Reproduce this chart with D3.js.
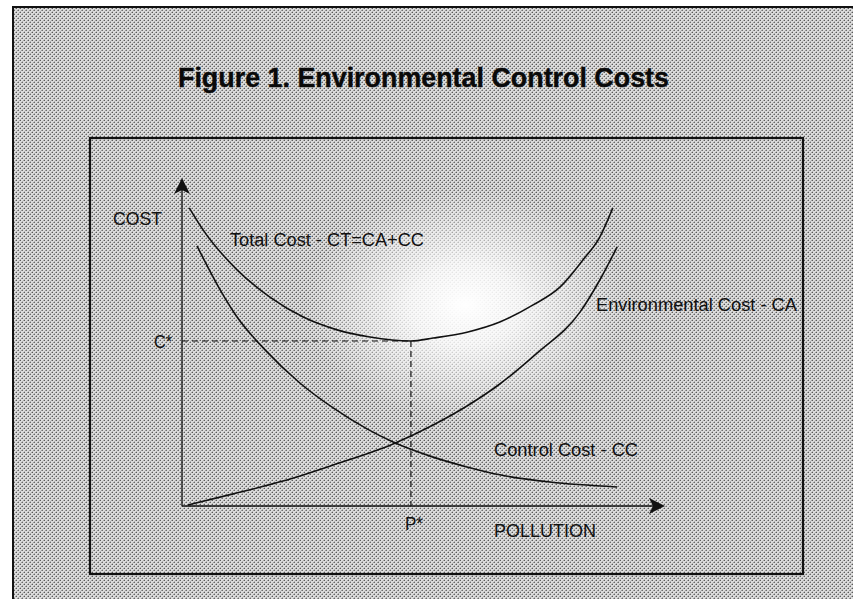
<!DOCTYPE html>
<html>
<head>
<meta charset="utf-8">
<script src="https://cdn.jsdelivr.net/npm/d3@7"></script>
<style>
  body { margin: 0; background: #fff; }
  svg { display: block; }
</style>
</head>
<body>
<div id="chart"></div>
<script>
// pollution (x) and cost (y), in plot units 0..10
var totalX = [0.15, 0.44, 1.14, 1.82, 2.51, 3.21, 3.89, 4.74, 5.20, 5.90, 6.58, 7.27, 7.83, 8.30, 8.65, 8.92];
var totalY = [9.09, 8.41, 7.20, 6.37, 5.76, 5.37, 5.15, 5.03, 5.12, 5.30, 5.61, 6.13, 6.68, 7.50, 8.20, 9.09];

var controlX = [0.31, 0.79, 1.14, 1.72, 2.44, 3.13, 3.83, 4.37, 5.20, 5.90, 6.58, 7.62, 9.01];
var controlY = [7.93, 6.59, 5.76, 4.76, 3.75, 2.99, 2.35, 1.95, 1.49, 1.19, 0.95, 0.73, 0.58];

var envX = [0.12, 1.06, 2.09, 3.13, 4.37, 5.20, 5.90, 6.58, 7.35, 8.24, 8.65, 9.01];
var envY = [0.03, 0.37, 0.76, 1.25, 1.89, 2.47, 3.05, 3.72, 4.66, 5.91, 6.89, 7.90];

var pStar = 4.74, cStar = 5.03;

var W = 853, H = 599;

var svg = d3.select("#chart").append("svg")
  .attr("width", W)
  .attr("height", H);

var defs = svg.append("defs");

// halftone screen
var pat = defs.append("pattern")
  .attr("id", "screen")
  .attr("width", 4).attr("height", 4)
  .attr("patternUnits", "userSpaceOnUse");
pat.append("rect").attr("width", 4).attr("height", 4).attr("fill", "#dcdcdc");
[[0, 0, "#5a5a5a"], [2, 2, "#6a6a6a"], [1, 2, "#9a9a9a"], [3, 0, "#a4a4a4"], [2, 1, "#b0b0b0"], [0, 3, "#b4b4b4"]]
  .forEach(function(p) {
    pat.append("rect").attr("x", p[0]).attr("y", p[1]).attr("width", 1).attr("height", 1).attr("fill", p[2]);
  });

var glow = defs.append("radialGradient")
  .attr("id", "glow")
  .attr("cx", 0.5).attr("cy", 0.5).attr("r", 0.5);
glow.append("stop").attr("offset", "0%").attr("stop-color", "#fff").attr("stop-opacity", 1);
glow.append("stop").attr("offset", "35%").attr("stop-color", "#fff").attr("stop-opacity", 0.8);
glow.append("stop").attr("offset", "100%").attr("stop-color", "#fff").attr("stop-opacity", 0);

// background and frames
svg.append("rect")
  .attr("x", 12).attr("y", 6)
  .attr("width", W - 12).attr("height", H - 6)
  .attr("fill", "url(#screen)");

svg.append("ellipse")
  .attr("cx", 465).attr("cy", 305)
  .attr("rx", 160).attr("ry", 115)
  .attr("fill", "url(#glow)");

svg.append("path")
  .attr("d", "M13," + H + "V7H" + W)
  .attr("fill", "none")
  .attr("stroke", "#111")
  .attr("stroke-width", 2);

svg.append("rect")
  .attr("x", 90).attr("y", 138)
  .attr("width", 713).attr("height", 436)
  .attr("fill", "none")
  .attr("stroke", "#111")
  .attr("stroke-width", 2.2);

// title
svg.append("text")
  .attr("x", 178).attr("y", 87)
  .attr("textLength", 491)
  .attr("lengthAdjust", "spacingAndGlyphs")
  .style("font-family", "'Liberation Sans', Arial, sans-serif")
  .style("font-weight", "bold")
  .style("font-size", "28px")
  .style("fill", "#0a0a0a")
  .style("stroke", "#0a0a0a")
  .style("stroke-width", 0.4)
  .text("Figure 1. Environmental Control Costs");

// scales
var x = d3.scaleLinear().domain([0, 10]).range([182, 665]);
var y = d3.scaleLinear().domain([0, 10]).range([506, 178]);

var g = svg.append("g");

// axes
g.append("line")
  .attr("x1", x(0)).attr("y1", y(0))
  .attr("x2", x(0)).attr("y2", y(10) + 8)
  .attr("stroke", "#111").attr("stroke-width", 1.3);
g.append("line")
  .attr("x1", x(0)).attr("y1", y(0))
  .attr("x2", x(10) - 8).attr("y2", y(0))
  .attr("stroke", "#111").attr("stroke-width", 1.3);

// arrowheads
var ty = y(10), tx = x(0);
g.append("path")
  .attr("d", "M" + tx + "," + ty + "L" + (tx + 8) + "," + (ty + 16) + "L" + tx + "," + (ty + 12) + "L" + (tx - 8) + "," + (ty + 16) + "Z")
  .attr("fill", "#111");
var ax = x(10), ay = y(0);
g.append("path")
  .attr("d", "M" + ax + "," + ay + "L" + (ax - 16) + "," + (ay - 8) + "L" + (ax - 12) + "," + ay + "L" + (ax - 16) + "," + (ay + 8) + "Z")
  .attr("fill", "#111");

// dashed guides to the optimum
g.append("line")
  .attr("x1", x(0)).attr("y1", y(cStar))
  .attr("x2", x(pStar)).attr("y2", y(cStar))
  .attr("stroke", "#111").attr("stroke-width", 1.2)
  .attr("stroke-dasharray", "6,4");
g.append("line")
  .attr("x1", x(pStar)).attr("y1", y(cStar))
  .attr("x2", x(pStar)).attr("y2", y(0))
  .attr("stroke", "#111").attr("stroke-width", 1.2)
  .attr("stroke-dasharray", "6,4");

// curves
var line = d3.line()
  .x(d => x(d[0]))
  .y(d => y(d[1]))
  .curve(d3.curveMonotoneX);

var curves = [
  d3.zip(totalX, totalY),
  d3.zip(controlX, controlY),
  d3.zip(envX, envY)
];

g.selectAll(".curve")
  .data(curves)
  .enter()
  .append("path")
  .attr("class", "curve")
  .attr("d", line)
  .attr("fill", "none")
  .attr("stroke", "#111")
  .attr("stroke-width", 1.6);

// labels
var labels = [
  {t: "COST", x: 113, y: 225, w: 49},
  {t: "Total Cost - CT=CA+CC", x: 230, y: 246, w: 194},
  {t: "Environmental Cost - CA", x: 596, y: 311, w: 201},
  {t: "Control Cost - CC", x: 494, y: 456, w: 144},
  {t: "POLLUTION", x: 494, y: 537, w: 102},
  {t: "C*", x: 154, y: 348, w: 18},
  {t: "P*", x: 405, y: 530, w: 18}
];

g.selectAll(".lbl")
  .data(labels)
  .enter()
  .append("text")
  .attr("class", "lbl")
  .attr("x", d => d.x)
  .attr("y", d => d.y)
  .attr("textLength", d => d.w)
  .attr("lengthAdjust", "spacingAndGlyphs")
  .style("font-family", "'Liberation Sans', Arial, sans-serif")
  .style("font-size", "18px")
  .style("fill", "#111")
  .text(d => d.t);
</script>
</body>
</html>
